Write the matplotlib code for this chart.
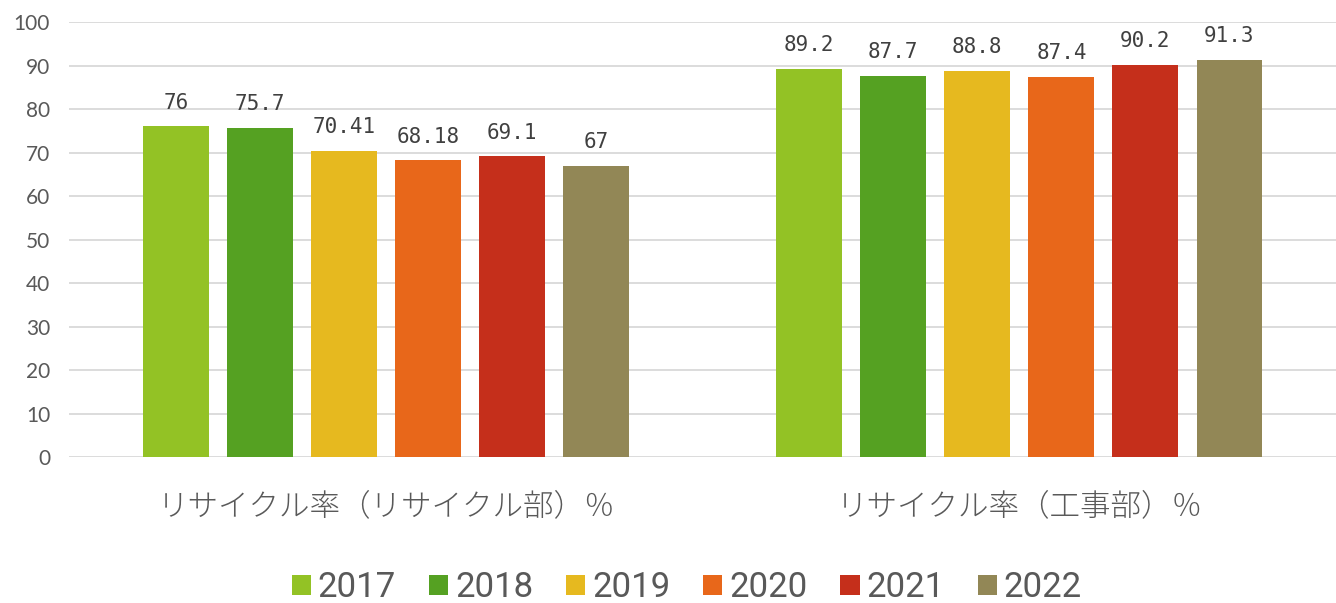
import matplotlib.pyplot as plt
import numpy as np

plt.rcParams['font.family'] = ['Noto Sans CJK JP', 'DejaVu Sans']

categories = ["リサイクル率（リサイクル部）％", "リサイクル率（工事部）％"]
years = ["2017", "2018", "2019", "2020", "2021", "2022"]
values = {
    "2017": [76, 89.2],
    "2018": [75.7, 87.7],
    "2019": [70.41, 88.8],
    "2020": [68.18, 87.4],
    "2021": [69.1, 90.2],
    "2022": [67, 91.3],
}
labels = {
    "2017": ["76", "89.2"],
    "2018": ["75.7", "87.7"],
    "2019": ["70.41", "88.8"],
    "2020": ["68.18", "87.4"],
    "2021": ["69.1", "90.2"],
    "2022": ["67", "91.3"],
}
colors = ["#93C225", "#55A122", "#E6B91F", "#E8671A", "#C52F1B", "#928756"]

grey = "#595959"

fig = plt.figure(figsize=(13.36, 6.03), dpi=100)
ax = fig.add_axes([0.052, 0.242, 0.948, 0.7215])

x = np.arange(len(categories))
pitch = 0.1327
width = 0.104
for i, y in enumerate(years):
    pos = x + (i - 2.5) * pitch
    bars = ax.bar(pos, values[y], width, color=colors[i], label=y, zorder=3)
    for b, lab in zip(bars, labels[y]):
        ax.annotate(lab, (b.get_x() + b.get_width() / 2, b.get_height()),
                    xytext=(0, 10), textcoords="offset points",
                    ha="center", va="bottom", fontsize=15, color="#404040",
                    family=["DejaVu Sans Mono"])

ax.set_xlim(-0.5, 1.5)
ax.set_ylim(0, 100)
ax.set_yticks(range(0, 101, 10))
ax.set_xticks(x)
ax.set_xticklabels(categories, fontsize=22, color=grey, fontweight="light")
ax.tick_params(axis="x", length=0, pad=24)
ax.tick_params(axis="y", length=0, pad=14, labelsize=15, labelcolor=grey)
for t in ax.get_yticklabels():
    t.set_family(["Lato", "DejaVu Sans"])
ax.grid(axis="y", color="#D9D9D9", lw=1.3, zorder=0)
for s in ax.spines.values():
    s.set_visible(False)

fig.legend(loc="lower center", ncol=6, frameon=False, bbox_to_anchor=(0.514, -0.054),
           handlelength=0.55, handleheight=0.55, handletextpad=0.2, columnspacing=0.95,
           prop={"family": ["Roboto", "DejaVu Sans"], "size": 25},
           labelcolor=grey)

fig.savefig("out.png", dpi=100)
